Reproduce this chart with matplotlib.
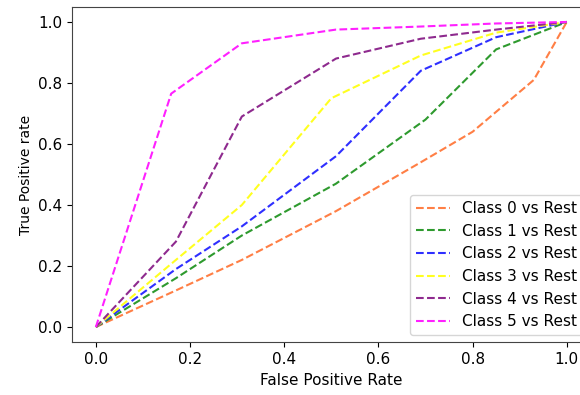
import matplotlib
matplotlib.use("Agg")
import matplotlib.pyplot as plt

labels = ["Class 0 vs Rest", "Class 1 vs Rest", "Class 2 vs Rest",
          "Class 3 vs Rest", "Class 4 vs Rest", "Class 5 vs Rest"]
colors = ["#ff7f45", "#2e9a2e", "#2f2fff", "#ffff20", "#8e2a8e", "#ff20ff"]

fpr0 = [0.0, 0.17, 0.31, 0.51, 0.69, 0.80, 0.93, 1.0]
tpr0 = [0.0, 0.12, 0.22, 0.38, 0.54, 0.64, 0.81, 1.0]
fpr1 = [0.0, 0.17, 0.31, 0.51, 0.70, 0.85, 1.0]
tpr1 = [0.0, 0.16, 0.30, 0.47, 0.68, 0.91, 1.0]
fpr2 = [0.0, 0.17, 0.31, 0.51, 0.69, 0.85, 1.0]
tpr2 = [0.0, 0.19, 0.33, 0.56, 0.84, 0.95, 1.0]
fpr3 = [0.0, 0.17, 0.31, 0.50, 0.69, 0.85, 1.0]
tpr3 = [0.0, 0.22, 0.40, 0.75, 0.89, 0.965, 1.0]
fpr4 = [0.0, 0.17, 0.31, 0.51, 0.69, 0.85, 1.0]
tpr4 = [0.0, 0.28, 0.69, 0.88, 0.945, 0.975, 1.0]
fpr5 = [0.0, 0.16, 0.31, 0.51, 0.69, 0.85, 1.0]
tpr5 = [0.0, 0.765, 0.93, 0.975, 0.985, 0.995, 1.0]

fprs = [fpr0, fpr1, fpr2, fpr3, fpr4, fpr5]
tprs = [tpr0, tpr1, tpr2, tpr3, tpr4, tpr5]

fig = plt.figure(figsize=(5.8, 3.95), dpi=100)
ax = fig.add_axes([72.3 / 580, 1 - 342.3 / 395, 518 / 580, 335.6 / 395])
for f, t, c, l in zip(fprs, tprs, colors, labels):
    ax.plot(f, t, linestyle="--", color=c, label=l)
ax.set_xlim(-0.05, 1.05)
ax.set_ylim(-0.05, 1.05)
ax.set_xlabel("False Positive Rate", fontsize=11)
ax.set_ylabel("True Positive rate", fontsize=10)
ax.tick_params(labelsize=11)
for spine in ax.spines.values():
    spine.set_color("#444444")
ax.legend(loc="lower right", fontsize=11, labelspacing=0.5,
          handlelength=2.2, borderaxespad=0.45)
fig.savefig("out.png", dpi=100)
